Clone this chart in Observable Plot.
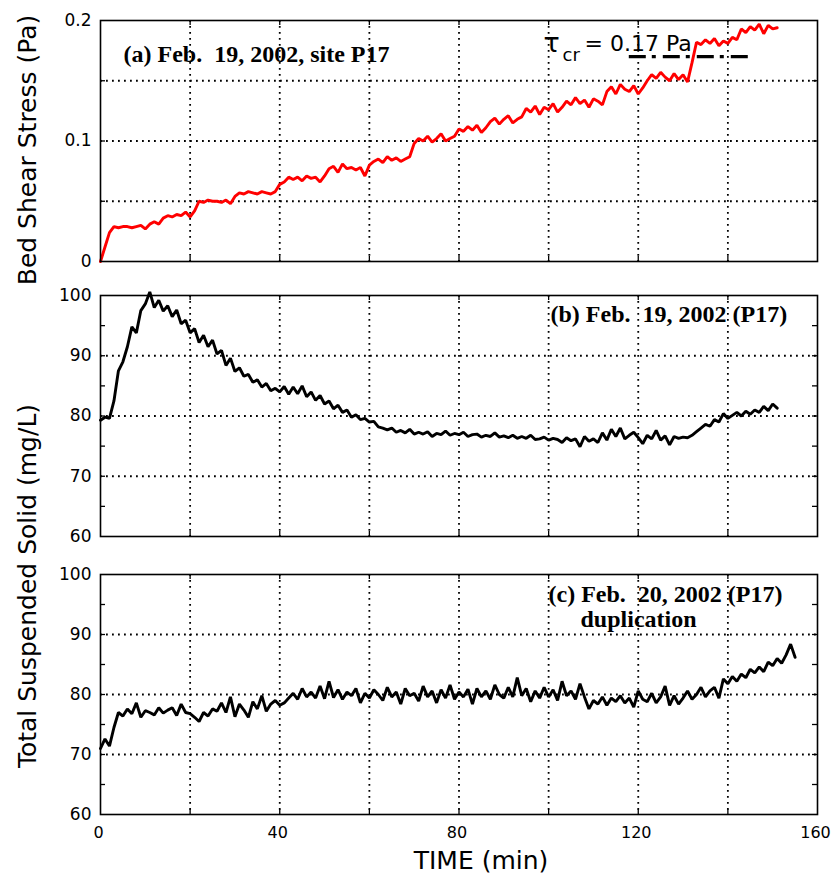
<!DOCTYPE html>
<html><head><meta charset="utf-8">
<script src="https://cdn.jsdelivr.net/npm/d3@7"></script>
<script src="https://cdn.jsdelivr.net/npm/@observablehq/plot@0.6"></script>
<style>
body{margin:0;background:#fff;}
#wrap{position:relative;width:832px;height:875px;background:#fff;overflow:hidden;}
.panel{position:absolute;left:0;}
#labels{position:absolute;left:0;top:0;pointer-events:none;}
</style></head><body>
<div id="wrap"></div>
<script>
// ---- data (one sample per minute) ----
const timeStep = 1; // minutes between samples
const shearStress = [0, 0.012, 0.024, 0.029, 0.028, 0.029, 0.029, 0.028, 0.029, 0.030,
 0.027, 0.031, 0.033, 0.031, 0.036, 0.038, 0.037, 0.039, 0.038, 0.041,
 0.037, 0.042, 0.050, 0.049, 0.051, 0.050, 0.050, 0.049, 0.051, 0.048,
 0.054, 0.057, 0.056, 0.058, 0.057, 0.056, 0.058, 0.057, 0.056, 0.058,
 0.064, 0.066, 0.070, 0.068, 0.070, 0.067, 0.071, 0.069, 0.070, 0.066,
 0.071, 0.077, 0.079, 0.074, 0.081, 0.077, 0.078, 0.076, 0.078, 0.071,
 0.080, 0.083, 0.085, 0.082, 0.087, 0.084, 0.086, 0.083, 0.085, 0.087,
 0.098, 0.102, 0.100, 0.104, 0.099, 0.102, 0.106, 0.100, 0.102, 0.104,
 0.110, 0.108, 0.112, 0.109, 0.113, 0.107, 0.111, 0.116, 0.119, 0.114,
 0.118, 0.121, 0.115, 0.118, 0.120, 0.127, 0.124, 0.129, 0.122, 0.128,
 0.126, 0.131, 0.124, 0.128, 0.133, 0.130, 0.136, 0.131, 0.134, 0.128,
 0.135, 0.133, 0.130, 0.141, 0.145, 0.139, 0.147, 0.143, 0.141, 0.146,
 0.139, 0.144, 0.150, 0.155, 0.152, 0.157, 0.153, 0.150, 0.156, 0.151,
 0.155, 0.149, 0.165, 0.182, 0.180, 0.184, 0.181, 0.185, 0.179, 0.183,
 0.181, 0.186, 0.184, 0.193, 0.190, 0.195, 0.192, 0.197, 0.189, 0.196,
 0.193, 0.194];

const tssFeb19 = [79.3, 79.8, 79.6, 82.5, 87.5, 89.0, 91.5, 94.8, 93.8, 97.5,
 98.6, 100.6, 98.0, 99.2, 97.4, 98.3, 96.5, 97.6, 95.3, 95.9,
 93.8, 94.5, 92.2, 93.4, 91.5, 92.6, 90.3, 90.9, 88.4, 89.6,
 87.4, 88.0, 86.6, 86.9, 85.6, 86.0, 84.8, 85.4, 84.2, 84.6,
 84.0, 84.9, 83.6, 84.8, 83.7, 85.0, 83.2, 84.0, 82.6, 83.4,
 82.0, 82.5, 81.2, 81.8, 80.6, 81.0, 79.8, 80.2, 79.4, 79.6,
 79.0, 79.1, 78.2, 78.0, 77.7, 78.0, 77.3, 77.6, 77.2, 77.8,
 77.0, 77.3, 77.0, 77.4, 76.6, 77.1, 76.9, 77.5, 76.8, 77.1,
 76.9, 77.3, 76.6, 76.9, 77.0, 76.5, 76.8, 76.6, 77.2, 76.5,
 76.7, 76.4, 76.8, 76.3, 76.6, 76.3, 76.8, 76.1, 76.2, 76.5,
 76.0, 76.3, 76.1, 75.6, 76.4, 75.9, 76.2, 74.9, 76.6, 75.8,
 76.2, 75.6, 77.2, 76.0, 77.8, 76.6, 78.0, 76.2, 76.8, 77.3,
 76.4, 75.4, 76.8, 76.2, 77.6, 76.0, 76.7, 75.2, 76.6, 76.3,
 76.5, 76.4, 76.8, 77.4, 78.0, 78.6, 78.3, 79.4, 79.0, 80.4,
 79.6, 80.1, 80.6, 80.0, 80.8, 80.3, 81.0, 80.6, 81.6, 80.9,
 82.0, 81.3];

const tssFeb20 = [71.0, 72.6, 71.4, 74.5, 77.0, 76.4, 77.6, 76.8, 78.6, 76.2,
 77.3, 77.0, 76.6, 77.8, 76.9, 77.4, 77.8, 76.5, 78.4, 77.0,
 76.8, 76.2, 75.5, 77.0, 76.4, 77.6, 77.2, 78.6, 77.0, 79.6,
 76.3, 78.4, 77.4, 76.2, 78.8, 77.6, 79.8, 77.2, 78.4, 79.0,
 78.2, 78.6, 79.4, 80.2, 79.2, 81.0, 79.6, 80.4, 79.4, 81.4,
 79.3, 82.2, 79.5, 80.8, 79.2, 80.4, 79.8, 81.0, 78.6, 80.2,
 79.4, 80.8, 80.0, 79.0, 81.2, 79.6, 80.4, 78.4, 81.0, 79.8,
 80.2, 78.9, 81.4, 79.6, 80.6, 78.6, 80.8, 79.4, 81.6, 79.2,
 80.4, 79.6, 80.9, 78.4, 81.0, 79.6, 80.6, 79.2, 81.6, 80.0,
 79.4, 81.2, 79.6, 82.8, 79.8, 81.0, 78.8, 80.6, 79.4, 81.2,
 79.6, 80.8, 79.0, 82.2, 79.8, 80.6, 79.2, 81.8, 79.6, 77.6,
 79.0, 78.4, 79.6, 78.2, 79.4, 78.8, 79.8, 78.6, 79.4, 77.9,
 80.6, 79.2, 78.8, 80.2, 78.6, 79.6, 81.4, 78.2, 79.8, 78.4,
 79.4, 80.6, 79.2, 80.0, 81.2, 79.6, 80.6, 81.2, 79.4, 82.6,
 81.8, 83.0, 82.2, 83.4, 82.8, 84.2, 83.6, 84.6, 83.8, 85.4,
 84.8, 86.0, 85.2, 86.6, 88.4, 86.2];

const criticalStress = 0.17;          // Pa
const criticalSpan = [118, 145];      // minutes covered by the dash-dot marker

const xDomain = [0, 160];
const xTickLabels = [0, 40, 80, 120, 160];
const xGridTicks = [20, 40, 60, 80, 100, 120, 140];

const stressDomain = [0, 0.2];
const stressTickLabels = [0, 0.1, 0.2];
const stressGrid = [0.05, 0.1, 0.15];

const tssDomain = [60, 100];
const tssTickLabels = [60, 70, 80, 90, 100];
const tssGrid = [70, 80, 90];
const tssMinor = [65, 70, 75, 80, 85, 90, 95];

const labelA = "(a) Feb.\u00a0 19, 2002, site P17";
const labelB = "(b) Feb.\u00a0 19, 2002 (P17)";
const labelC = "(c) Feb.\u00a0 20, 2002 (P17)";
const labelC2 = "duplication";

// ---- layout ----
const W = 832, ML = 100, MR = 15, innerW = W - ML - MR;
const SANS = "DejaVu Sans, Liberation Sans, Arial, sans-serif";
const SERIF = "Liberation Serif, Times New Roman, serif";
const dotted = {stroke: "black", strokeWidth: 1.8, strokeDasharray: "1.8,4.2"};

function panel({values, stroke, yDomain, yGrid, yTicks, yLabels, yFormat, top, height, marginTop, marginBottom, showX, extra}) {
  const innerH = height - marginTop - marginBottom;
  const marks = [
    Plot.ruleX(xGridTicks, {x: d => d, ...dotted}),
    Plot.ruleY(yGrid, {y: d => d, ...dotted}),
    Plot.tickY(yTicks, {y: d => d, insetRight: innerW - 5, stroke: "black", strokeWidth: 1.3}),
    Plot.tickY(yTicks, {y: d => d, insetLeft: innerW - 5, stroke: "black", strokeWidth: 1.3}),
    Plot.tickX(xGridTicks, {x: d => d, insetTop: innerH - 5, stroke: "black", strokeWidth: 1.3}),
    Plot.tickX(xGridTicks, {x: d => d, insetBottom: innerH - 5, stroke: "black", strokeWidth: 1.3}),
    Plot.line(values, {x: (d, i) => i * timeStep, y: d => d, stroke, strokeWidth: 2.9, strokeLinejoin: "miter"}),
    ...extra,
    Plot.frame({stroke: "black", strokeWidth: 1.6}),
    Plot.axisY(yLabels, {tickSize: 0, tickPadding: 9, tickFormat: yFormat, fontSize: 17, fontFamily: SANS, fill: "black", label: null})
  ];
  if (showX) marks.push(Plot.axisX(xTickLabels, {tickSize: 0, tickPadding: 12, dx: -2, fontSize: 16, fontFamily: SANS, fill: "black", label: null}));
  const svg = Plot.plot({
    width: W, height, marginLeft: ML, marginRight: MR, marginTop, marginBottom,
    x: {domain: xDomain, axis: showX ? undefined : null},
    y: {domain: yDomain},
    style: {fontFamily: SANS, fontSize: "17px", color: "black", background: "white", overflow: "visible"},
    marks
  });
  const div = document.createElement("div");
  div.className = "panel";
  div.style.top = top + "px";
  div.appendChild(svg);
  document.getElementById("wrap").appendChild(div);
}

const serifBold = {fontFamily: SERIF, fontWeight: "bold", fontSize: 24, fill: "black", lineAnchor: "bottom", textAnchor: "start", frameAnchor: "top-left"};

panel({
  values: shearStress, stroke: "#ff0000", yDomain: stressDomain, yGrid: stressGrid,
  yTicks: [0.05, 0.1, 0.15], yLabels: stressTickLabels, yFormat: d => String(d),
  top: 0, height: 265, marginTop: 20, marginBottom: 4, showX: false,
  extra: [
    Plot.ruleY([criticalStress], {y: d => d, x1: criticalSpan[0], x2: criticalSpan[1], stroke: "black", strokeWidth: 3.2, strokeDasharray: "17,6,4,7"}),
    Plot.text([labelA], {text: d => d, dx: 23, dy: 41.5, ...serifBold}),
    Plot.text(["\u03c4"], {text: d => d, frameAnchor: "top-left", dx: 443, dy: 31, lineAnchor: "bottom", textAnchor: "start", fontFamily: SANS, fontSize: 27, fill: "black"}),
    Plot.text(["cr"], {text: d => d, frameAnchor: "top-left", dx: 462, dy: 40, lineAnchor: "bottom", textAnchor: "start", fontFamily: SANS, fontSize: 18, fill: "black"}),
    Plot.text(["= 0.17 Pa"], {text: d => d, frameAnchor: "top-left", dx: 484, dy: 30, lineAnchor: "bottom", textAnchor: "start", fontFamily: SANS, fontSize: 22, fill: "black"})
  ]
});

panel({
  values: tssFeb19, stroke: "black", yDomain: tssDomain, yGrid: tssGrid,
  yTicks: tssMinor, yLabels: tssTickLabels, yFormat: d => String(d),
  top: 280, height: 260, marginTop: 15, marginBottom: 4, showX: false,
  extra: [
    Plot.text([labelB], {text: d => d, dx: 450, dy: 26.7, ...serifBold})
  ]
});

panel({
  values: tssFeb20, stroke: "black", yDomain: tssDomain, yGrid: tssGrid,
  yTicks: tssMinor, yLabels: tssTickLabels, yFormat: d => String(d),
  top: 560, height: 315, marginTop: 14, marginBottom: 61, showX: true,
  extra: [
    Plot.text([labelC], {text: d => d, dx: 448, dy: 27.2, ...serifBold}),
    Plot.text([labelC2], {text: d => d, dx: 480, dy: 52, ...serifBold})
  ]
});

// axis titles
const ns = "http://www.w3.org/2000/svg";
const ov = document.createElementNS(ns, "svg");
ov.setAttribute("id", "labels");
ov.setAttribute("width", W); ov.setAttribute("height", 875);
const titles = [
  {text: "Bed Shear Stress (Pa)", x: 36, y: 150, rot: -90},
  {text: "Total Suspended Solid (mg/L)", x: 36, y: 586, rot: -90},
  {text: "TIME (min)", x: 481, y: 869, rot: 0}
];
for (const t of titles) {
  const el = document.createElementNS(ns, "text");
  el.setAttribute("transform", `translate(${t.x},${t.y}) rotate(${t.rot})`);
  el.setAttribute("text-anchor", "middle");
  el.setAttribute("font-family", SANS);
  el.setAttribute("font-size", "25");
  el.setAttribute("fill", "black");
  el.textContent = t.text;
  ov.appendChild(el);
}
document.getElementById("wrap").appendChild(ov);
</script>
</body></html>
